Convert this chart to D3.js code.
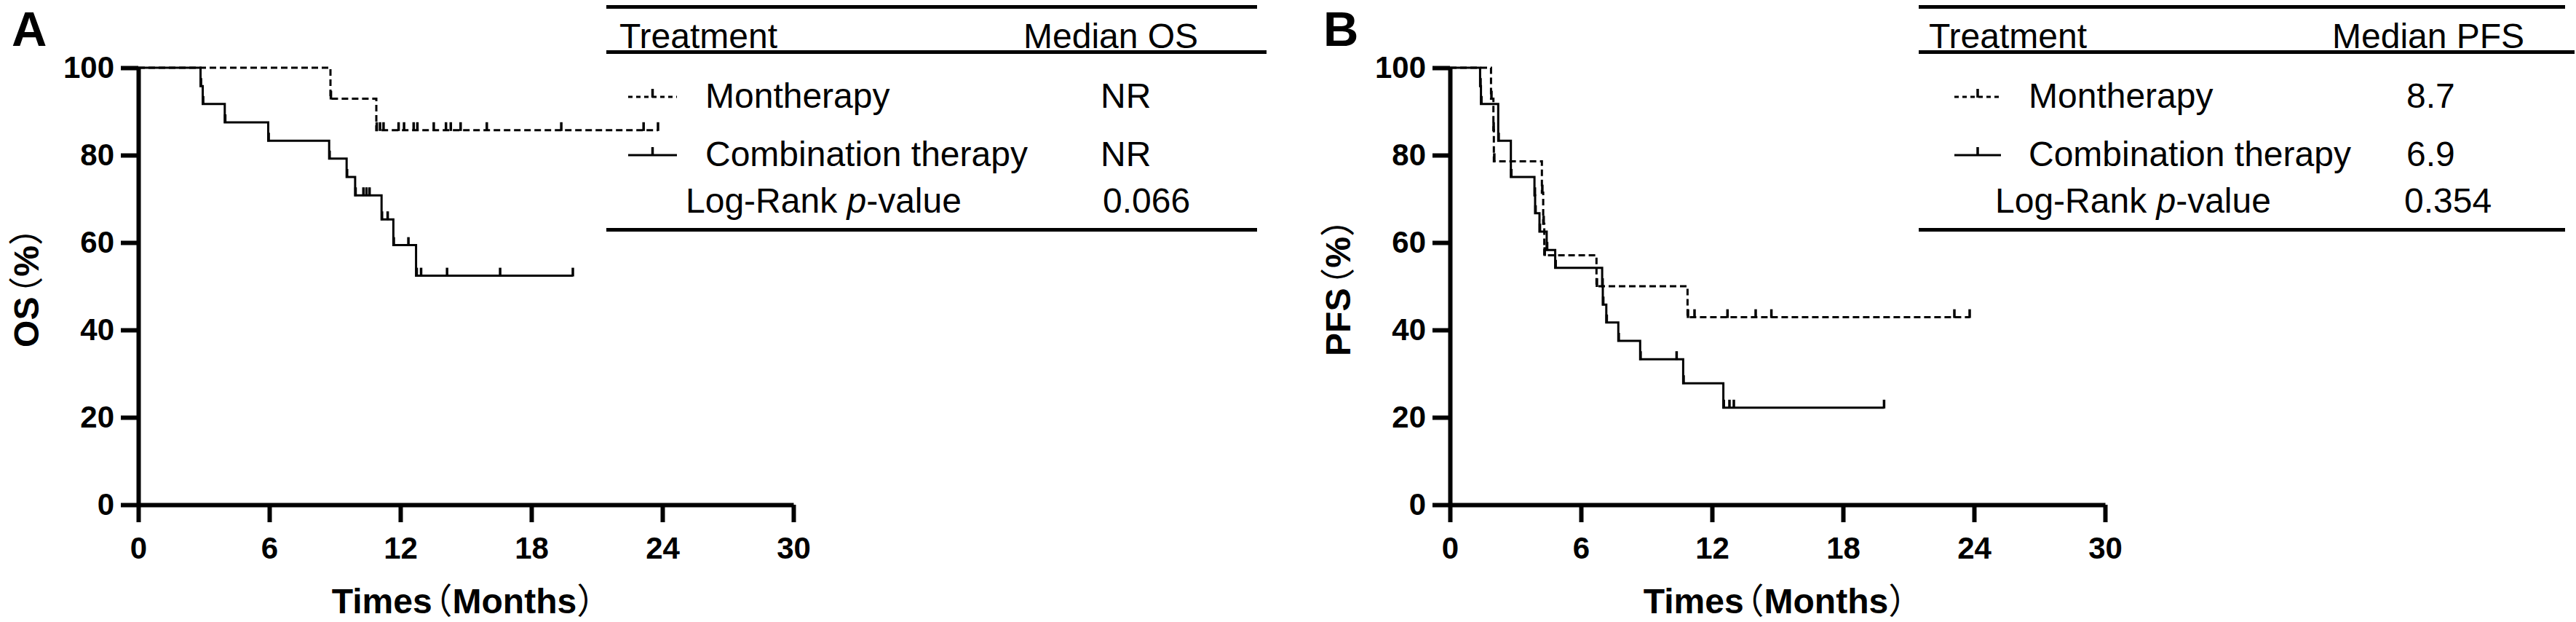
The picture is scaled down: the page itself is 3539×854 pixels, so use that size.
<!DOCTYPE html>
<html>
<head>
<meta charset="utf-8">
<script src="https://cdn.jsdelivr.net/npm/d3@7"></script>
<style>
body { margin: 0; background: #fff; }
text { font-family: 'Liberation Sans', Arial, sans-serif; fill: #000; }
</style>
</head>
<body>
<svg id="chart" width="3539" height="854"></svg>
<script>
// axis ticks
var xTicks = [0, 6, 12, 18, 24, 30]
var yTicks = [0, 20, 40, 60, 80, 100]

// legend content
var groups = ['Montherapy', 'Combination therapy']
var medianOS = ['NR', 'NR']
var medianPFS = ['8.7', '6.9']
var pValues = ['0.066', '0.354']

// OS, monotherapy (dashed)
var osMonoTimes = [8.8, 10.9]
var osMonoSurv = [92.9, 85.7]
var osMonoEnd = 23.8
var osMonoCensor = [8.82, 10.92, 11.07, 11.23, 11.92, 12.17, 12.61, 12.78, 13.53, 14.09, 14.31, 14.76, 15.96, 19.37, 23.14, 23.8]

// OS, combination therapy (solid)
var osCombTimes = [2.85, 2.95, 3.96, 5.95, 8.74, 9.54, 9.93, 11.14, 11.68, 12.72]
var osCombSurv = [95.8, 91.7, 87.5, 83.3, 79.2, 75.0, 70.8, 65.3, 59.4, 52.4]
var osCombEnd = 19.9
var osCombCensor = [2.87, 2.97, 3.98, 5.97, 8.76, 9.56, 9.95, 10.31, 10.45, 10.59, 11.16, 11.42, 11.7, 12.37, 12.75, 12.95, 14.14, 16.57, 19.9]

// PFS, monotherapy (dashed)
var pfsMonoTimes = [1.88, 1.99, 2.01, 4.21, 4.27, 4.32, 6.71, 10.88]
var pfsMonoSurv = [92.9, 85.7, 78.6, 71.4, 64.3, 57.1, 50.0, 42.9]
var pfsMonoEnd = 23.8
var pfsMonoCensor = [1.9, 2.0, 2.03, 4.23, 4.29, 4.34, 6.73, 10.9, 11.2, 12.71, 14.0, 14.72, 23.1, 23.8]

// PFS, combination therapy (solid)
var pfsCombTimes = [1.38, 1.42, 2.21, 2.79, 3.87, 3.9, 4.1, 4.43, 4.82, 6.97, 7.0, 7.16, 7.71, 8.71, 10.68, 12.52]
var pfsCombSurv = [95.8, 91.7, 83.3, 75.0, 70.8, 66.7, 62.5, 58.3, 54.2, 50.0, 45.8, 41.7, 37.5, 33.3, 27.8, 22.2]
var pfsCombEnd = 19.88
var pfsCombCensor = [1.4, 1.44, 2.23, 2.81, 3.89, 3.92, 4.12, 4.45, 4.84, 6.99, 7.02, 7.18, 7.73, 8.73, 10.38, 10.7, 12.54, 12.8, 13.0, 19.88]

var svg = d3.select('#chart')
var CJK = "'Noto Sans CJK SC', 'Noto Sans CJK JP', sans-serif"

var styleAxis = function(sel) {
    sel.attr('font-family', null).attr('font-size', null)
    sel.select('.domain').attr('stroke', '#000').attr('stroke-width', 6)
    sel.selectAll('.tick line').attr('stroke', '#000').attr('stroke-width', 6)
    sel.selectAll('.tick text').attr('font-size', 42).attr('font-weight', 'bold')
}

// text with full-width brackets, pulled in a little like the original
var labelWithBrackets = function(el, word, inner) {
    el.append('tspan').text(word)
    el.append('tspan').attr('dx', '-0.42em').style('font-family', CJK).attr('font-weight', 'normal').text('（')
    el.append('tspan').text(inner)
    el.append('tspan').style('font-family', CJK).attr('font-weight', 'normal').text('）')
}

var survAt = function(times, surv, t) {
    var s = 100
    for (var i = 0; i < times.length; ++i)
        if (times[i] <= t) s = surv[i]
    return s
}

var drawPanel = function(p) {
    var x = d3.scaleLinear().domain([0, 30]).range([p.x0, p.x0 + 900])
    var y = d3.scaleLinear().domain([0, 100]).range([693, 93])
    var g = svg.append('g')

    g.append('g')
        .attr('transform', 'translate(' + p.x0 + ',0)')
        .call(d3.axisLeft(y).tickValues(yTicks).tickSize(24).tickSizeOuter(0).tickPadding(9))
        .call(styleAxis)
    g.append('g')
        .attr('transform', 'translate(0,693)')
        .call(d3.axisBottom(x).tickValues(xTicks).tickSize(24).tickSizeOuter(0).tickPadding(20))
        .call(styleAxis)

    // panel letter and axis titles
    g.append('text').attr('x', p.x0 - 174).attr('y', 63)
        .attr('font-size', 67).attr('font-weight', 'bold').text(p.letter)

    var yt = g.append('text')
        .attr('transform', 'translate(' + (p.x0 - 137) + ',383) rotate(-90)')
        .attr('text-anchor', 'middle').attr('font-size', 48).attr('font-weight', 'bold')
    labelWithBrackets(yt, p.yTitle, '%')

    var xt = g.append('text')
        .attr('x', p.x0 + 458).attr('y', 842)
        .attr('text-anchor', 'middle').attr('font-size', 48).attr('font-weight', 'bold')
    labelWithBrackets(xt, 'Times', 'Months')

    // survival curves
    var line = d3.line()
        .x(function(d) { return x(d[0]) })
        .y(function(d) { return y(d[1]) })
        .curve(d3.curveStepAfter)

    p.series.forEach(function(s) {
        var pts = [[0, 100]]
        for (var i = 0; i < s.times.length; ++i) pts.push([s.times[i], s.surv[i]])
        pts.push([s.end, s.surv[s.surv.length - 1]])

        g.append('path')
            .attr('d', line(pts))
            .attr('fill', 'none')
            .attr('stroke', '#000')
            .attr('stroke-width', 3)
            .attr('stroke-dasharray', s.dashed ? '9,5' : null)

        g.selectAll(null)
            .data(s.censor)
            .enter()
            .append('line')
            .attr('x1', function(c) { return x(c) })
            .attr('x2', function(c) { return x(c) })
            .attr('y1', function(c) { return y(survAt(s.times, s.surv, c)) + 1 })
            .attr('y2', function(c) { return y(survAt(s.times, s.surv, c)) - 11 })
            .attr('stroke', '#000')
            .attr('stroke-width', 3.5)
    })

    // legend table
    var L = p.legend
    var rule = function(x1, x2, yy) {
        g.append('line').attr('x1', x1).attr('x2', x2).attr('y1', yy).attr('y2', yy)
            .attr('stroke', '#000').attr('stroke-width', 5)
    }
    rule(L.left, L.right, 9.5)
    rule(L.left, L.right + 13, 71.5)
    rule(L.left, L.right, 315.5)

    var txt = function(xx, yy, s) {
        return g.append('text').attr('x', xx).attr('y', yy).attr('font-size', 48).text(s)
    }
    txt(L.col1, 66, 'Treatment')
    txt(L.col2, 66, p.medianTitle)

    var rowY = [133, 213]
    groups.forEach(function(name, i) {
        var yy = rowY[i]
        g.append('line').attr('x1', L.sym[0]).attr('x2', L.sym[1]).attr('y1', yy).attr('y2', yy)
            .attr('stroke', '#000').attr('stroke-width', 3)
            .attr('stroke-dasharray', i === 0 ? '6,5' : null)
        var mid = (L.sym[0] + L.sym[1]) / 2
        g.append('line').attr('x1', mid).attr('x2', mid).attr('y1', yy + 1).attr('y2', yy - 11)
            .attr('stroke', '#000').attr('stroke-width', 3.5)
        txt(L.name, yy + 15, name)
        txt(L.val, yy + 15, p.medians[i])
    })

    var lr = txt(L.lr, 292, 'Log-Rank ')
    lr.append('tspan').attr('font-style', 'italic').text('p')
    lr.append('tspan').text('-value')
    txt(L.pval, 292, p.pValue)
}

drawPanel({
    x0: 190, letter: 'A', yTitle: 'OS', medianTitle: 'Median OS',
    medians: medianOS, pValue: pValues[0],
    legend: { left: 833, right: 1727, col1: 851, col2: 1406, sym: [863, 930], name: 969, val: 1512, lr: 942, pval: 1515 },
    series: [
        { times: osMonoTimes, surv: osMonoSurv, end: osMonoEnd, censor: osMonoCensor, dashed: true },
        { times: osCombTimes, surv: osCombSurv, end: osCombEnd, censor: osCombCensor, dashed: false }
    ]
})

drawPanel({
    x0: 1992, letter: 'B', yTitle: 'PFS', medianTitle: 'Median PFS',
    medians: medianPFS, pValue: pValues[1],
    legend: { left: 2636, right: 3524, col1: 2650, col2: 3204, sym: [2685, 2749], name: 2787, val: 3306, lr: 2741, pval: 3303 },
    series: [
        { times: pfsMonoTimes, surv: pfsMonoSurv, end: pfsMonoEnd, censor: pfsMonoCensor, dashed: true },
        { times: pfsCombTimes, surv: pfsCombSurv, end: pfsCombEnd, censor: pfsCombCensor, dashed: false }
    ]
})
</script>
</body>
</html>
